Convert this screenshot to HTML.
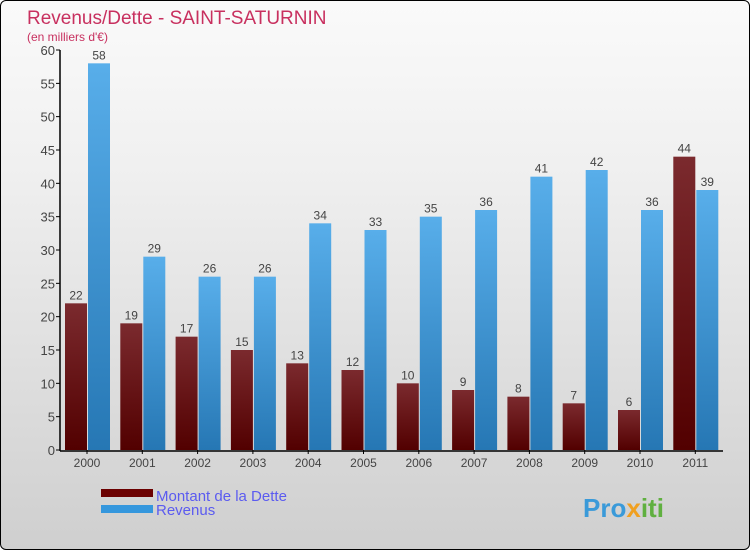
<!DOCTYPE html>
<html><head><meta charset="utf-8"><style>
body{margin:0}
#c{width:748px;height:548px;border:1px solid #000;border-radius:6px;background:linear-gradient(#fafafa,#f0f0f0 30%,#cfcfcf);position:relative;overflow:hidden;font-family:"Liberation Sans",sans-serif}
</style></head><body>
<div id="c">
<svg width="748" height="548" id="s">
<defs>
<linearGradient id="gr" x1="0" y1="0" x2="0" y2="1"><stop offset="0" stop-color="#7b2a2e"/><stop offset="1" stop-color="#520000"/></linearGradient>
<linearGradient id="gb" x1="0" y1="0" x2="0" y2="1"><stop offset="0" stop-color="#58aeea"/><stop offset="1" stop-color="#2677b4"/></linearGradient>
</defs>
<text x="26" y="23" font-size="19" fill="#c8305f">Revenus/Dette - SAINT-SATURNIN</text>
<text x="26" y="40" font-size="12" fill="#c8305f">(en milliers d'€)</text>
<g id="g"></g>
<rect x="100" y="488" width="52" height="8" fill="#6b0000"/>
<rect x="100" y="504" width="52" height="8" fill="#3597dd"/>
<text x="155" y="500" font-size="15" fill="#5b5bf0">Montant de la Dette</text>
<text x="155" y="514" font-size="15" fill="#5b5bf0">Revenus</text>
<text x="582" y="516" font-size="26" font-weight="bold" fill="#3a9ad9">Pro<tspan fill="#f0a020">x</tspan><tspan fill="#60b040">iti</tspan></text>
</svg></div>
<script>
const years=["2000","2001","2002","2003","2004","2005","2006","2007","2008","2009","2010","2011"];
const dette=[22,19,17,15,13,12,10,9,8,7,6,44];
const revenus=[58,29,26,26,34,33,35,36,41,42,36,39];
const ticks=[0,5,10,15,20,25,30,35,40,45,50,55,60];
const g=document.getElementById('g');const NS="http://www.w3.org/2000/svg";
const y=v=>449-v*400/60, xc=i=>86+i*55.3;
function mk(t,a){const e=document.createElementNS(NS,t);for(const k in a)e.setAttribute(k,a[k]);g.appendChild(e);return e;}
ticks.forEach(t=>{
const l=mk('line',{x1:55,x2:59,y1:y(t),y2:y(t),stroke:'#000'});


const tx=mk('text',{x:54,y:y(t)+5,'text-anchor':'end','font-size':13,fill:'#444'});tx.textContent=t;


});
years.forEach((yr,i)=>{
const c=xc(i);
const r=mk('rect',{x:c-22,y:y(dette[i]),width:22,height:y(0)-y(dette[i]),fill:'url(#gr)'});


const b=mk('rect',{x:c+1,y:y(revenus[i]),width:22,height:y(0)-y(revenus[i]),fill:'url(#gb)'});


const t1=mk('text',{x:c-11,y:y(dette[i])-4,'text-anchor':'middle','font-size':12,fill:'#444'});t1.textContent=dette[i];


const t2=mk('text',{x:c+12,y:y(revenus[i])-4,'text-anchor':'middle','font-size':12,fill:'#444'});t2.textContent=revenus[i];


const tk=mk('line',{x1:c,x2:c,y1:449,y2:453,stroke:'#000'});


const xl=mk('text',{x:c,y:466,'text-anchor':'middle','font-size':12,fill:'#444'});xl.textContent=yr;


});
const ya=mk('line',{x1:59,x2:59,y1:49,y2:450,stroke:'#000','stroke-width':1.5});


const xa=mk('line',{x1:59,x2:722,y1:450,y2:450,stroke:'#000','stroke-width':1.5});


</script>
</body></html>
